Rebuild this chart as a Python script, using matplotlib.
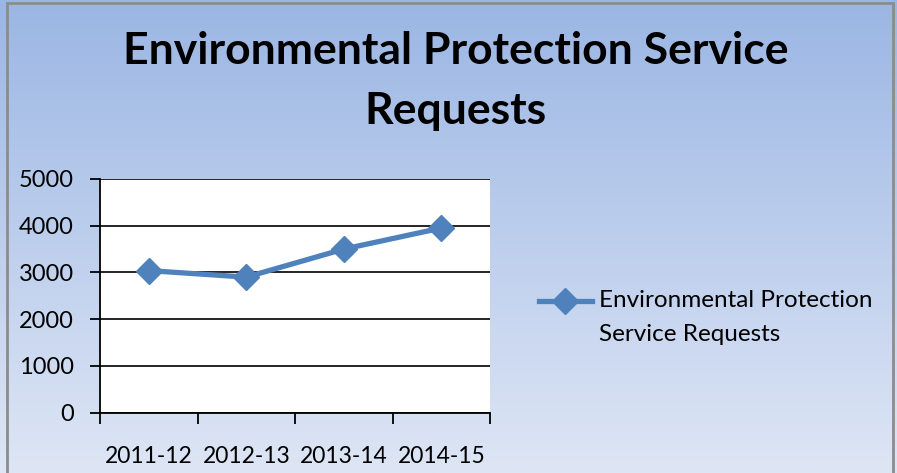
import matplotlib
matplotlib.use("Agg")
import matplotlib.pyplot as plt
import numpy as np
from matplotlib.patches import Rectangle
from matplotlib.legend_handler import HandlerLine2D

# Data
years = ["2011-12", "2012-13", "2013-14", "2014-15"]
requests = [3040, 2900, 3500, 3950]
title = "Environmental Protection Service\nRequests"
legend_label = "Environmental Protection\nService Requests"

LINE = "#4F81BD"
FONT = "Lato"


class TopAlignedLine(HandlerLine2D):
    """Put the legend marker level with the first line of a two-line label."""

    def create_artists(self, legend, orig_handle, xdescent, ydescent,
                       width, height, fontsize, trans):
        artists = super().create_artists(legend, orig_handle, xdescent, ydescent,
                                         width, height, fontsize, trans)
        for a in artists:
            a.set_ydata(np.asarray(a.get_ydata()) + 0.68 * fontsize)
        return artists


fig = plt.figure(figsize=(8.97, 4.73), dpi=100)

# gradient background (darker blue at top, pale at bottom)
bg = fig.add_axes([0, 0, 1, 1], zorder=0)
top = np.array([155, 182, 228]) / 255
bot = np.array([222, 230, 245]) / 255
t = np.linspace(0, 1, 256)[:, None]
grad = (top * (1 - t) + bot * t)[:, None, :]
bg.imshow(grad, aspect="auto", extent=[0, 1, 0, 1], origin="upper")
bg.set_axis_off()
fig.patches.append(Rectangle((0.008, -0.01), 0.987, 1.003, transform=fig.transFigure,
                             fill=False, edgecolor="#8c8c8c", lw=2))

ax = fig.add_axes([0.1115, 0.1275, 0.4348, 0.4941], zorder=1)
ax.set_facecolor("white")
x = np.arange(len(years))
line, = ax.plot(x, requests, color=LINE, lw=3.8, marker="D", ms=13,
                markeredgecolor=LINE, label=legend_label, zorder=3)

ax.set_xlim(-0.5, len(years) - 0.5)
ax.set_ylim(0, 5000)
ax.set_yticks(range(0, 5001, 1000))
ax.grid(axis="y", color="black", lw=1.2)
ax.set_axisbelow(True)
ax.set_xticks(x)
ax.set_xticklabels(years)
ax.set_xticks(np.arange(-0.5, len(years), 1.0), minor=True)
ax.tick_params(axis="x", which="major", length=0, pad=24, labelsize=16.5)
ax.tick_params(axis="x", which="minor", length=8, width=1.3, direction="out")
ax.tick_params(axis="y", length=7, width=1.3, pad=12, labelsize=17)
for lab in ax.get_xticklabels() + ax.get_yticklabels():
    lab.set_fontfamily(FONT)
for s in ["top", "right"]:
    ax.spines[s].set_visible(False)
for s in ["left", "bottom"]:
    ax.spines[s].set_linewidth(1.3)

fig.text(0.508, 0.829, title, ha="center", va="center", fontsize=32,
         fontweight="bold", family=FONT, linespacing=1.6)

leg = fig.legend(handles=[line], loc="center left", bbox_to_anchor=(0.576, 0.328),
                 frameon=False, prop={"family": FONT, "size": 17.5},
                 handlelength=2.2, handletextpad=0.3,
                 handler_map={line: TopAlignedLine()})
for txt in leg.get_texts():
    txt.set_linespacing(1.75)

fig.savefig("out.png", dpi=100)
